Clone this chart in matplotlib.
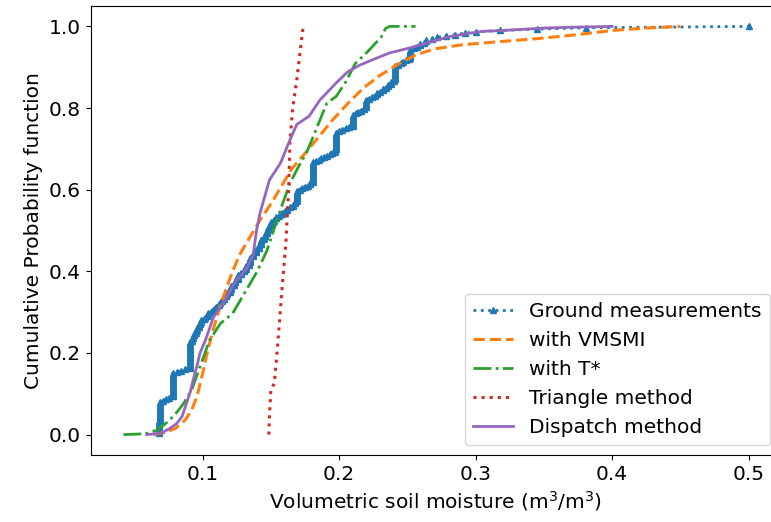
#!/usr/bin/env python3
"""
CDF of volumetric soil moisture: ground measurements vs downscaling methods.
"""
import numpy as np
import matplotlib
matplotlib.use('Agg')
import matplotlib.pyplot as plt

# Ground measurements: distinct values (m3/m3) and how often each occurs
ground_values = [
    0.068, 0.069, 0.071, 0.073, 0.075, 0.078, 0.081, 0.084, 0.087, 0.091,
    0.092, 0.093, 0.094, 0.095, 0.096, 0.097, 0.098, 0.099,
    0.101, 0.102, 0.103, 0.104, 0.106, 0.107, 0.108, 0.110, 0.112, 0.113,
    0.114, 0.116, 0.117, 0.118, 0.120, 0.121, 0.123, 0.124, 0.126, 0.128,
    0.130, 0.132, 0.134, 0.135, 0.137, 0.139, 0.141, 0.143,
    0.145, 0.146, 0.147, 0.148, 0.149, 0.150, 0.152, 0.154, 0.156, 0.158,
    0.160, 0.162, 0.164, 0.166, 0.168, 0.169, 0.171, 0.173, 0.175, 0.177,
    0.179, 0.181, 0.183, 0.185, 0.187, 0.189, 0.191, 0.193, 0.195, 0.197,
    0.198, 0.200, 0.202, 0.205, 0.207, 0.210, 0.212, 0.214, 0.216, 0.218,
    0.220, 0.222, 0.224, 0.226, 0.228, 0.230, 0.232, 0.234, 0.236, 0.238,
    0.240, 0.241, 0.243, 0.245, 0.247, 0.249, 0.251, 0.252, 0.255, 0.257,
    0.259, 0.262, 0.264, 0.268, 0.272, 0.278, 0.285, 0.292, 0.300, 0.318,
    0.345, 0.381, 0.500,
]
ground_counts = [
    10, 14, 1, 1, 1, 18, 1, 1, 1, 20,
    2, 2, 2, 2, 2, 2, 2, 2,
    1, 1, 1, 2, 1, 1, 1, 2, 2, 1,
    2, 2, 1, 2, 2, 3, 2, 2, 4, 2,
    2, 3, 2, 4, 3, 3, 3, 4,
    2, 2, 3, 2, 2, 2, 2, 2, 1, 2,
    1, 2, 1, 2, 2, 8, 1, 1, 1, 1,
    2, 15, 1, 1, 1, 1, 1, 1, 1, 2,
    13, 1, 1, 1, 1, 9, 1, 1, 1, 2,
    6, 1, 1, 1, 2, 1, 2, 1, 2, 2,
    1, 11, 1, 1, 1, 1, 1, 7, 1, 1,
    2, 1, 2, 1, 1, 1, 1, 1, 1, 1,
    1, 1, 1,
]

# Model estimates, traced CDF curves (x = soil moisture, y = cumulative prob.)
vmsmi_x = [0.064, 0.072, 0.080, 0.087, 0.092, 0.096, 0.100, 0.104, 0.108, 0.112,
           0.117, 0.122, 0.127, 0.134, 0.142, 0.150, 0.158, 0.165, 0.174, 0.184,
           0.195, 0.206, 0.218, 0.230, 0.242, 0.256, 0.270, 0.290, 0.315, 0.345,
           0.375, 0.400, 0.425, 0.450]
vmsmi_y = [0.0, 0.005, 0.015, 0.035, 0.06, 0.095, 0.15, 0.21, 0.26, 0.305,
           0.355, 0.40, 0.44, 0.48, 0.525, 0.565, 0.61, 0.65, 0.685, 0.725,
           0.77, 0.81, 0.85, 0.88, 0.905, 0.93, 0.945, 0.955, 0.962, 0.97,
           0.98, 0.99, 0.996, 1.0]

tstar_x = [0.042, 0.058, 0.066, 0.074, 0.080, 0.086, 0.092, 0.098, 0.105, 0.113,
           0.122, 0.132, 0.140, 0.147, 0.153, 0.158, 0.164, 0.170, 0.176, 0.181,
           0.186, 0.191, 0.198, 0.205, 0.212, 0.220, 0.227, 0.231, 0.234, 0.237,
           0.245, 0.256]
tstar_y = [0.0, 0.002, 0.01, 0.03, 0.05, 0.076, 0.11, 0.165, 0.231, 0.272,
           0.297, 0.354, 0.40, 0.45, 0.51, 0.56, 0.616, 0.655, 0.69, 0.73,
           0.771, 0.812, 0.829, 0.865, 0.91, 0.935, 0.96, 0.975, 0.995, 1.0,
           1.0, 1.0]

triangle_x = [0.1485, 0.149, 0.150, 0.1525, 0.155, 0.158, 0.161, 0.163, 0.164,
              0.166, 0.169, 0.1715, 0.1737]
triangle_y = [0.0, 0.05, 0.11, 0.125, 0.22, 0.35, 0.47, 0.6, 0.72,
              0.8, 0.87, 0.94, 1.0]

dispatch_x = [0.059, 0.066, 0.071, 0.076, 0.081, 0.085, 0.088, 0.091, 0.093, 0.096,
              0.098, 0.102, 0.108, 0.115, 0.124, 0.132, 0.137, 0.1395, 0.142, 0.149,
              0.157, 0.164, 0.169, 0.178, 0.186, 0.198, 0.206, 0.215, 0.225, 0.237,
              0.249, 0.260, 0.270, 0.281, 0.295, 0.305, 0.320, 0.335, 0.350, 0.370,
              0.385, 0.400]
dispatch_y = [0.0, 0.002, 0.006, 0.015, 0.027, 0.045, 0.075, 0.105, 0.133, 0.17,
              0.199, 0.231, 0.288, 0.321, 0.375, 0.405, 0.44, 0.50, 0.542, 0.624,
              0.665, 0.722, 0.76, 0.78, 0.82, 0.862, 0.888, 0.905, 0.919, 0.935,
              0.945, 0.955, 0.965, 0.975, 0.983, 0.988, 0.99, 0.993, 0.996, 0.998,
              0.999, 1.0]


def main():
    plt.rcParams['font.size'] = 14.5

    # empirical CDF of the ground samples
    samples = np.repeat(ground_values, ground_counts)
    cdf = np.arange(1, len(samples) + 1) / len(samples)

    fig = plt.figure(figsize=(7.71, 5.22), dpi=100)
    # axes run slightly past the right edge, as in the cropped original
    ax = fig.add_axes([90.7 / 771, 1 - 455 / 522, (780 - 90.7) / 771, (455 - 6) / 522])

    ax.plot(samples, cdf, ':', marker='^', markersize=5, color='C0', lw=2,
            label='Ground measurements')
    ax.plot(vmsmi_x, vmsmi_y, '--', color='C1', lw=2.2, label='with VMSMI')
    ax.plot(tstar_x, tstar_y, '-.', color='C2', lw=2, label='with T*')
    ax.plot(triangle_x, triangle_y, ':', color='C3', lw=2.2, label='Triangle method')
    ax.plot(dispatch_x, dispatch_y, '-', color='C4', lw=2, label='Dispatch method')

    ax.set_xlim(0.018, 0.523)
    ax.set_ylim(-0.05, 1.05)
    ax.set_xticks([0.1, 0.2, 0.3, 0.4, 0.5])
    ax.set_yticks([0.0, 0.2, 0.4, 0.6, 0.8, 1.0])
    ax.set_xlabel('Volumetric soil moisture (m$^3$/m$^3$)')
    ax.set_ylabel('Cumulative Probability function')

    ax.legend(loc='lower right')

    fig.savefig('out.png', dpi=100)


if __name__ == '__main__':
    main()
